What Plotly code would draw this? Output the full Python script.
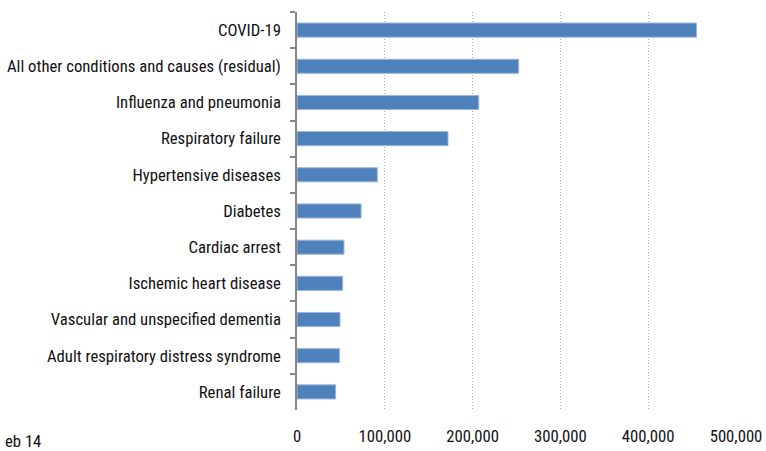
import plotly.graph_objects as go

categories = [
    "COVID-19",
    "All other conditions and causes (residual)",
    "Influenza and pneumonia",
    "Respiratory failure",
    "Hypertensive diseases",
    "Diabetes",
    "Cardiac arrest",
    "Ischemic heart disease",
    "Vascular and unspecified dementia",
    "Adult respiratory distress syndrome",
    "Renal failure",
]
deaths = [455000, 252500, 207000, 172000, 91500, 73000, 53500, 52000, 49000, 48500, 44000]
x_ticks = [0, 100000, 200000, 300000, 400000, 500000]
x_tick_labels = ["0", "100,000", "200,000", "300,000", "400,000", "500,000"]
footnote = "eb 14"

FONT = "Roboto Condensed, Liberation Sans Narrow, Arial Narrow, sans-serif"
FS = 16.7

fig = go.Figure(
    go.Bar(
        y=categories,
        x=deaths,
        orientation="h",
        marker=dict(color="#4F81BD", line=dict(color="#9DB7DA", width=1)),
        width=0.39,
    )
)

W, H = 766, 451
L, R, T, B = 296.5, 30, 12, 41

fig.update_layout(
    width=W,
    height=H,
    margin=dict(l=L, r=R, t=T, b=B, pad=0, autoexpand=False),
    paper_bgcolor="white",
    plot_bgcolor="white",
    showlegend=False,
    font=dict(family=FONT, size=FS, color="#111111"),
)

fig.update_xaxes(
    range=[0, 500000],
    tickvals=x_ticks,
    ticktext=x_tick_labels,
    showgrid=True,
    gridcolor="#ABABAB",
    griddash="1px,2px",
    gridwidth=1,
    zeroline=False,
    showline=False,
    ticks="",
    ticklabelstandoff=14,
    tickfont=dict(size=FS),
    automargin=False,
)

fig.update_yaxes(
    categoryorder="array",
    categoryarray=categories,
    autorange="reversed",
    showline=True,
    linecolor="#868686",
    linewidth=1.5,
    ticks="outside",
    tickson="boundaries",
    ticklen=5,
    tickcolor="#868686",
    tickwidth=1.5,
    showgrid=False,
    ticklabelstandoff=11,
    tickfont=dict(size=FS),
    automargin=False,
)

plot_w = W - L - R
plot_h = H - T - B
fig.add_annotation(
    text=footnote,
    xref="paper",
    yref="paper",
    x=(2 - L) / plot_w,
    y=-(442 - (T + plot_h)) / plot_h,
    xanchor="left",
    yanchor="middle",
    showarrow=False,
    font=dict(family=FONT, size=FS, color="#111111"),
)

fig.write_html(
    "out.html",
    config={"displayModeBar": False},
    post_script="document.body.style.margin='0';document.body.style.overflow='hidden';",
)
